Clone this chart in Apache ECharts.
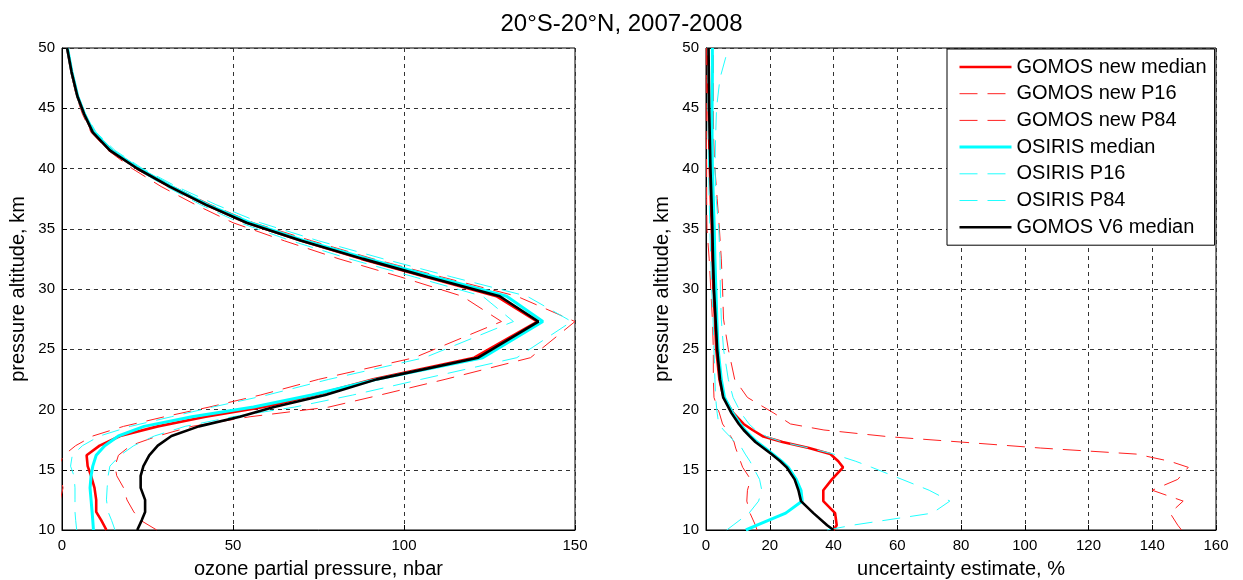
<!DOCTYPE html>
<html>
<head>
<meta charset="utf-8">
<script src="https://cdn.jsdelivr.net/npm/echarts@6/dist/echarts.min.js"></script>
<style>
  html, body { margin: 0; padding: 0; background: #fff; }
  #chart { width: 1243px; height: 580px; }
</style>
</head>
<body>
<div id="chart"></div>
<script>
// Ozone profiles, tropics 20S-20N, 2007-2008
// Left panel: ozone partial pressure (nbar) on pressure altitude (km)
const altL = [10, 10.8, 11.5, 12.5, 13.5, 14.5, 15.3, 16.2, 17, 17.8, 18.6, 19.4, 20.2, 21.2, 22.5, 24.3, 27.3, 29.4, 31, 32.5, 34, 35.5, 37, 38.5, 40, 41.5, 43, 44.5, 46, 48, 50];
const gomosNewMedianL = [13, 11.5, 10, 10, 9.5, 8.5, 7.5, 7.2, 11, 17, 28, 42, 59, 74, 91, 120.5, 139, 127, 106.5, 87.5, 70, 54, 42, 31.5, 22, 14, 9, 6.5, 4.5, 2.8, 1.5];
const gomosNewP16L = [-2, -2, -1.5, -0.5, 0.3, -0.5, -1, 0.5, 4, 9, 18, 30, 43, 58, 75, 103, 128.5, 117, 99, 81, 65, 50, 39, 29, 20.5, 13.5, 8.5, 6, 4.2, 2.6, 1.4];
const gomosNewP84L = [27.7, 23, 21, 19, 18, 16, 15.5, 16.5, 20, 28, 38, 55, 78, 93, 112, 137, 150, 133, 111, 91, 73, 56, 43.5, 32.5, 22.8, 15, 9.6, 6.7, 4.7, 2.9, 1.6];
const osirisMedianL = [9.2, 9, 8.8, 8.5, 8.2, 8.5, 9, 10, 12.5, 16.5, 24, 38, 56, 73, 92, 123, 140.6, 130, 109, 89.5, 71, 55, 42.5, 32, 22.5, 14.5, 9.3, 6.6, 4.6, 2.9, 1.6];
const osirisP16L = [4.3, 4, 3.8, 3.8, 3.8, 3.5, 2.5, 3, 6, 11, 20, 32, 44, 60, 78, 106, 132, 123, 103, 84, 67, 52, 40.5, 30.5, 21.5, 14, 9, 6.3, 4.4, 2.8, 1.5];
const osirisP84L = [15.5, 14.5, 13.5, 13, 13.2, 13.5, 14, 17, 21, 27, 36, 50, 68, 85, 105, 133, 149, 136, 114, 94, 75, 58, 45, 33.5, 23.5, 15.5, 10, 6.9, 4.8, 3.0, 1.7];
const gomosV6MedianL = [22, 23.3, 24.3, 24.3, 23, 23, 23.8, 25.5, 28, 32, 40, 52, 62, 77, 92, 121.7, 139.3, 128, 107, 88, 70, 54, 42, 31.5, 22, 14, 9, 6.5, 4.5, 2.8, 1.5];

// Right panel: uncertainty estimate (%) on pressure altitude (km)
const altR = [10, 10.4, 11.4, 12.4, 13.3, 14.2, 15.2, 15.7, 16.3, 16.8, 17.3, 17.75, 18.3, 18.8, 19.7, 21, 22.5, 25, 27.5, 30, 32.5, 35, 37.5, 40, 42.5, 45, 47.5, 50];
const gomosNewMedianR = [40, 41, 40.5, 36.8, 36.8, 39.5, 43, 41.5, 39, 32.3, 24, 18, 14.6, 11.8, 8.6, 5.5, 4.2, 3.2, 2.8, 2.3, 2, 1.8, 1.5, 1.2, 1, 0.8, 0.7, 0.6];
const gomosNewP16R = [16, 15.5, 13.8, 12.8, 13, 14, 11.5, 10.8, 10, 9.3, 8.8, 7.8, 6.5, 5.2, 4.2, 2.5, 2.3, 2.3, 2, 1.5, 1, 0.3, 0.2, 0.2, 0.1, 0.1, 0.1, 0.1];
const gomosNewP84R = [149.2, 148, 145.6, 149.7, 140, 148, 151.3, 145.6, 135, 105, 80, 57, 37, 26.5, 21.3, 13, 9, 7, 5.5, 5.2, 4.8, 4.2, 3.5, 2.8, 2.4, 2.3, 2.3, 2.3];
const osirisMedianR = [12.5, 16, 25, 30.2, 29.8, 28.3, 25.8, 23.8, 21, 18.5, 16, 14.2, 12.2, 10.7, 8.4, 5.8, 4.8, 3.8, 3.4, 3.1, 2.8, 2.6, 2.3, 2.0, 1.9, 1.9, 2, 2];
const osirisP16R = [6.5, 8.5, 13.5, 16.5, 17.5, 16.8, 14.8, 13.8, 12.3, 11.2, 9, 7.5, 5.5, 4, 3.5, 3, 2.8, 2.5, 2.2, 1.8, 1.5, 1.2, 1, 0.8, 0.7, 0.6, 0.6, 0.6];
const osirisP84R = [38, 46, 71, 76.5, 70, 61.5, 52, 47, 40, 32.3, 24, 19, 15.5, 13.5, 11, 8.5, 7, 5.5, 4.8, 4.5, 4.4, 4, 3.2, 2.8, 3, 3.3, 4.4, 7];
const gomosV6MedianR = [40, 38, 33.7, 29.8, 29, 27.8, 25.3, 23.3, 20.5, 18, 15.5, 13.8, 11.8, 10.3, 8, 5.4, 4.4, 3.5, 3, 2.5, 2.2, 2, 1.7, 1.4, 1.2, 1, 0.9, 0.8];

const seriesNames = ['GOMOS new median', 'GOMOS new P16', 'GOMOS new P84', 'OSIRIS median', 'OSIRIS P16', 'OSIRIS P84', 'GOMOS V6 median'];
const titleText = '20\u00b0S-20\u00b0N, 2007-2008';
const altTicks = { min: 10, max: 50, interval: 5 };
const ozoneTicks = { min: 0, max: 150, interval: 50 };
const uncTicks = { min: 0, max: 160, interval: 20 };

const FONT = 'Liberation Sans, Arial, sans-serif';
const DASH = [18, 10];

// line appearance per series (same order as seriesNames)
const styles = [
  { color: '#ff0000', width: 2.6, type: 'solid' },
  { color: '#ff2020', width: 1, type: DASH },
  { color: '#ff2020', width: 1, type: DASH },
  { color: '#00ffff', width: 3, type: 'solid' },
  { color: '#20ffff', width: 1, type: DASH },
  { color: '#20ffff', width: 1, type: DASH },
  { color: '#000000', width: 2.6, type: 'solid' }
];

function pairs(vals, alts) {
  return alts.map((a, i) => [vals[i], a]);
}

const leftSets = [gomosNewMedianL, gomosNewP16L, gomosNewP84L, osirisMedianL, osirisP16L, osirisP84L, gomosV6MedianL];
const rightSets = [gomosNewMedianR, gomosNewP16R, gomosNewP84R, osirisMedianR, osirisP16R, osirisP84R, gomosV6MedianR];

const series = [];
function addSeries(sets, alts, idx) {
  sets.forEach((vals, k) => {
    series.push({
      name: seriesNames[k],
      type: 'line',
      xAxisIndex: idx,
      yAxisIndex: idx,
      data: pairs(vals, alts),
      showSymbol: false,
      symbol: 'none',
      clip: true,
      animation: false,
      z: 2 + k,
      color: styles[k].color,
      lineStyle: { color: styles[k].color, width: styles[k].width, type: styles[k].type }
    });
  });
}
addSeries(leftSets, altL, 0);
addSeries(rightSets, altR, 1);

const gridLine = { show: true, lineStyle: { color: '#333', width: 1, type: [4, 4] } };
const axisLineBlack = { show: true, onZero: false, lineStyle: { color: '#000', width: 1 } };
const tickInside = { show: true, inside: true, length: 5, lineStyle: { color: '#000' } };
const tickLabel = { color: '#000', fontFamily: FONT, fontSize: 15 };
const nameStyle = { color: '#000', fontFamily: FONT, fontSize: 20 };

function xAxisDef(idx, ticks, name) {
  return {
    type: 'value', gridIndex: idx, min: ticks.min, max: ticks.max, interval: ticks.interval,
    name: name, nameLocation: 'middle', nameGap: 29, nameTextStyle: nameStyle,
    axisLine: axisLineBlack, axisTick: tickInside, splitLine: gridLine,
    axisLabel: Object.assign({ margin: 8 }, tickLabel)
  };
}
function yAxisDef(idx) {
  return {
    type: 'value', gridIndex: idx, min: altTicks.min, max: altTicks.max, interval: altTicks.interval,
    name: 'pressure altitude, km', nameLocation: 'middle', nameGap: 34, nameTextStyle: nameStyle,
    axisLine: axisLineBlack, axisTick: tickInside, splitLine: gridLine,
    axisLabel: Object.assign({ margin: 7 }, tickLabel)
  };
}

const legendData = seriesNames.map((n, k) => ({
  name: n,
  lineStyle: { color: styles[k].color, width: styles[k].width, type: styles[k].type }
}));

const chart = echarts.init(document.getElementById('chart'), null, { renderer: 'canvas' });
chart.setOption({
  animation: false,
  backgroundColor: '#fff',
  title: {
    text: titleText, left: 'center', top: 7,
    textStyle: { fontFamily: FONT, fontSize: 24, fontWeight: 'normal', color: '#000' }
  },
  grid: [
    { left: 62, top: 48, width: 513, height: 482, outerBoundsMode: 'none', containLabel: false, show: true, borderColor: '#000', borderWidth: 1, backgroundColor: '#fff' },
    { left: 706, top: 48, width: 510, height: 482, outerBoundsMode: 'none', containLabel: false, show: true, borderColor: '#000', borderWidth: 1, backgroundColor: '#fff' }
  ],
  xAxis: [
    xAxisDef(0, ozoneTicks, 'ozone partial pressure, nbar'),
    xAxisDef(1, uncTicks, 'uncertainty estimate, %')
  ],
  yAxis: [yAxisDef(0), yAxisDef(1)],
  legend: {
    data: legendData,
    orient: 'vertical',
    left: 947, top: 49,
    padding: [8, 8, 8, 11],
    itemWidth: 52, itemHeight: 20, itemGap: 6.7,
    itemStyle: { opacity: 0 },
    lineStyle: { width: 'inherit', type: 'inherit' },
    backgroundColor: '#fff', borderColor: '#000', borderWidth: 1,
    textStyle: { fontFamily: FONT, fontSize: 20, color: '#000' },
    selectedMode: false,
    z: 20
  },
  series: series
});
</script>
</body>
</html>
